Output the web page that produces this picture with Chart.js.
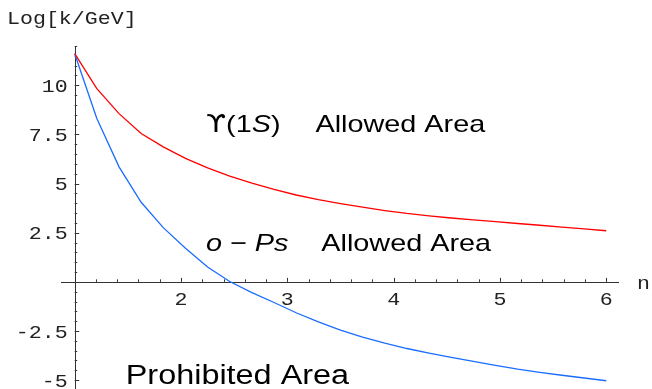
<!DOCTYPE html>
<html>
<head>
<meta charset="utf-8">
<title>Log[k/GeV] vs n</title>
<script src="https://cdn.jsdelivr.net/npm/chart.js@4.4.1/dist/chart.umd.min.js"></script>
<style>
    html, body { margin: 0; padding: 0; background: #fff; }
    canvas { display: block; }
</style>
</head>
<body>
<canvas id="plot" width="652" height="389"></canvas>
<script>
// sample points of n (Mathematica style, 25 samples from 1 to 6)
const nValues = [1.000, 1.208, 1.417, 1.625, 1.833, 2.042, 2.250, 2.458, 2.667, 2.875,
    3.083, 3.292, 3.500, 3.708, 3.917, 4.125, 4.333, 4.542, 4.750, 4.958,
    5.167, 5.375, 5.583, 5.792, 6.000];

// Upsilon(1S) boundary (red)
const upsilonLogK = [11.61, 9.83, 8.56, 7.55, 6.87, 6.28, 5.80, 5.38, 5.02, 4.70,
    4.42, 4.18, 3.98, 3.80, 3.63, 3.48, 3.36, 3.25, 3.15, 3.06,
    2.97, 2.88, 2.79, 2.70, 2.60];

// ortho-positronium boundary (blue)
const orthoPsLogK = [11.61, 8.31, 5.85, 4.05, 2.76, 1.71, 0.76, 0.02, -0.55, -1.05,
    -1.57, -2.03, -2.45, -2.81, -3.12, -3.39, -3.62, -3.84, -4.05, -4.25,
    -4.44, -4.60, -4.75, -4.89, -5.03];

const xTicks = [2, 3, 4, 5, 6];
const xTickLabels = ['2', '3', '4', '5', '6'];
const yTicks = [-5, -2.5, 2.5, 5, 7.5, 10];
const yTickLabels = ['-5', '-2.5', '2.5', '5', '7.5', '10'];

const STRETCH = 1.2;  // the original picture is a bit wider than tall
const MONO = '18px "Liberation Mono", "Courier New", monospace';
const SANS = '"Liberation Sans", Arial, Helvetica, sans-serif';

// draw text squeezed horizontally like the original, returns its width
function stretchText(ctx, str, x, y, align) {
    const w = ctx.measureText(str).width * STRETCH;
    let x0 = x;
    if (align === 'right') x0 = x - w;
    else if (align === 'center') x0 = x - w / 2;
    ctx.save();
    ctx.translate(x0, y);
    ctx.scale(STRETCH, 1);
    ctx.textAlign = 'left';
    ctx.fillText(str, 0, 0);
    ctx.restore();
    return w;
}

// draw a row of pieces, some of them italic
function richText(ctx, parts, x, y, size) {
    let cx = x;
    parts.forEach(p => {
        ctx.font = (p.italic ? 'italic ' : '') + size + 'px ' + (p.family || SANS);
        cx += stretchText(ctx, p.t, cx, y, 'left');
    });
}

const axesPlugin = {
    id: 'mmaAxes',
    beforeDatasetsDraw(chart) {
        const ctx = chart.ctx;
        const xs = chart.scales.x, ys = chart.scales.y;
        const area = chart.chartArea;
        const x0 = xs.getPixelForValue(1);
        const y0 = ys.getPixelForValue(0);

        ctx.save();
        ctx.strokeStyle = '#333';
        ctx.lineWidth = 1;
        ctx.beginPath();
        ctx.moveTo(area.left, Math.round(y0) + 0.5);
        ctx.lineTo(area.right, Math.round(y0) + 0.5);
        ctx.moveTo(Math.round(x0) + 0.5, area.top);
        ctx.lineTo(Math.round(x0) + 0.5, area.bottom);
        ctx.stroke();

        // x ticks: minor every 0.2, major at integers
        ctx.beginPath();
        for (let i = 6; i <= 30; i++) {
            const v = i / 5;
            const px = Math.round(xs.getPixelForValue(v)) + 0.5;
            const len = (i % 5 === 0) ? 4 : 2.5;
            ctx.moveTo(px, y0);
            ctx.lineTo(px, y0 - len);
        }
        // y ticks: minor every 0.5, major every 2.5
        for (let i = -10; i <= 24; i++) {
            if (i === 0) continue;
            const v = i / 2;
            const py = Math.round(ys.getPixelForValue(v)) + 0.5;
            if (py < area.top || py > area.bottom) continue;
            const len = (i % 5 === 0) ? 4.5 : 2.5;
            ctx.moveTo(x0, py);
            ctx.lineTo(x0 + len, py);
        }
        ctx.stroke();

        // tick labels
        ctx.fillStyle = '#222';
        ctx.font = MONO;
        ctx.textBaseline = 'alphabetic';
        xTicks.forEach((v, i) => {
            stretchText(ctx, xTickLabels[i], xs.getPixelForValue(v), y0 + 23, 'center');
        });
        yTicks.forEach((v, i) => {
            stretchText(ctx, yTickLabels[i], x0 - 7, ys.getPixelForValue(v) + 6.5, 'right');
        });

        // axis labels
        stretchText(ctx, 'Log[k/GeV]', 7, 24, 'left');
        stretchText(ctx, 'n', 637, y0 + 7, 'left');
        ctx.restore();
    },
    afterDatasetsDraw(chart) {
        const ctx = chart.ctx;
        const xs = chart.scales.x, ys = chart.scales.y;
        ctx.save();
        ctx.fillStyle = '#000';
        ctx.textBaseline = 'alphabetic';

        richText(ctx, [{ t: '\u03D2', family: '"DejaVu Sans", sans-serif' }, { t: '(1' },
            { t: 'S', italic: true }, { t: ')' }],
            xs.getPixelForValue(2.235), ys.getPixelForValue(7.61), 24);
        richText(ctx, [{ t: 'Allowed Area' }],
            xs.getPixelForValue(3.265), ys.getPixelForValue(7.61), 24);

        richText(ctx, [{ t: 'o', italic: true }, { t: ' \u2212 ' }, { t: 'Ps', italic: true }],
            xs.getPixelForValue(2.235), ys.getPixelForValue(1.57), 24);
        richText(ctx, [{ t: 'Allowed Area' }],
            xs.getPixelForValue(3.32), ys.getPixelForValue(1.57), 24);

        richText(ctx, [{ t: 'Prohibited Area' }],
            xs.getPixelForValue(1.48), ys.getPixelForValue(-5.19), 27);
        ctx.restore();
    }
};

const ctx = document.getElementById('plot').getContext('2d');
new Chart(ctx, {
    type: 'line',
    data: {
        datasets: [{
            label: 'Upsilon(1S)',
            data: nValues.map((n, i) => ({ x: n, y: upsilonLogK[i] })),
            borderColor: '#ff0000',
            borderWidth: 1.3,
            pointRadius: 0,
            tension: 0,
            fill: false
        }, {
            label: 'o-Ps',
            data: nValues.map((n, i) => ({ x: n, y: orthoPsLogK[i] })),
            borderColor: '#1a6dff',
            borderWidth: 1.3,
            pointRadius: 0,
            tension: 0,
            fill: false
        }]
    },
    options: {
        responsive: false,
        animation: false,
        devicePixelRatio: 1,
        layout: { padding: { left: 61, right: 33, top: 46, bottom: 0 } },
        plugins: {
            legend: { display: false },
            tooltip: { enabled: false }
        },
        scales: {
            x: { type: 'linear', min: 0.871, max: 6.12, display: false },
            y: { type: 'linear', min: -5.45, max: 12.0, display: false }
        }
    },
    plugins: [axesPlugin]
});
</script>
</body>
</html>
